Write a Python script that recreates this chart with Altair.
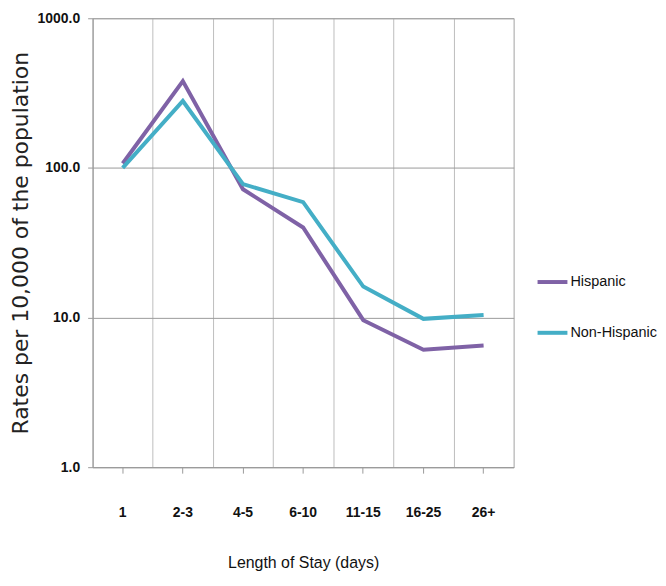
import altair as alt
import pandas as pd

stays = ["1", "2-3", "4-5", "6-10", "11-15", "16-25", "26+"]
hispanic = [107, 380, 72, 40, 9.6, 6.1, 6.5]
non_hispanic = [100, 280, 78, 59, 16.1, 9.8, 10.4]
series = ["Hispanic", "Non-Hispanic"]
y_ticks = [1, 10, 100, 1000]

rows = []
for s, vals in zip(series, [hispanic, non_hispanic]):
    for st, v in zip(stays, vals):
        rows.append({"stay": st, "rate": v, "series": s})
df = pd.DataFrame(rows)

xscale = alt.Scale(type="band", domain=stays, paddingInner=0, paddingOuter=0)
yscale = alt.Scale(type="log", domain=[1, 1000])

y_axis = alt.Axis(
    values=y_ticks, format=".1f", grid=True, gridColor="#9a9a9a",
    domainColor="#9a9a9a", tickColor="#9a9a9a", tickSize=5,
    labelFont="Liberation Sans", labelFontWeight="bold", labelFontSize=14,
    labelColor="#111", labelPadding=8,
    title="Rates per 10,000 of the population", titleFont="DejaVu Sans",
    titleFontSize=22, titleFontWeight="normal", titleColor="#222", titlePadding=5,
)

color = alt.Color(
    "series:N",
    scale=alt.Scale(domain=series, range=["#7f62a6", "#44aec6"]),
    legend=alt.Legend(
        title=None, orient="none", legendX=445, legendY=248,
        symbolType="stroke", symbolSize=900, symbolStrokeWidth=4,
        labelFont="Liberation Sans", labelFontSize=14.5, labelColor="#111",
        labelOffset=1, rowPadding=26, padding=0,
    ),
)

bottom_axis = alt.Axis(
    orient="bottom", grid=False, labelAngle=0,
    domainColor="#9a9a9a", tickColor="#9a9a9a", tickSize=6,
    labelFont="Liberation Sans", labelFontWeight="bold", labelFontSize=14,
    labelColor="#111", labelPadding=33,
    title="Length of Stay (days)", titleFont="Liberation Sans",
    titleFontSize=16, titleFontWeight="normal", titleColor="#111", titlePadding=35,
)

grid_axis = alt.Axis(
    orient="top", grid=True, gridColor="#bdbdbd", tickBand="extent",
    ticks=False, labels=False, domain=False, title=None,
)

base = alt.Chart(df).mark_line(strokeWidth=4)

hisp = base.transform_filter(alt.datum.series == "Hispanic").encode(
    x=alt.X("stay:N", scale=xscale, sort=stays, bandPosition=0.5, axis=bottom_axis),
    y=alt.Y("rate:Q", scale=yscale, axis=y_axis),
    color=color,
)
nonh = base.transform_filter(alt.datum.series == "Non-Hispanic").encode(
    x=alt.X("stay:N", scale=xscale, sort=stays, bandPosition=0.5, axis=grid_axis),
    y=alt.Y("rate:Q", scale=yscale, axis=y_axis),
    color=color,
)

chart = (
    alt.layer(hisp, nonh)
    .resolve_axis(x="independent")
    .properties(width=423, height=451,
                padding={"left": 1, "top": 2, "right": 0, "bottom": 0})
    .configure_view(stroke="#c0c0c0")
)

chart.save("out.html", embed_options={"renderer": "svg", "actions": False})
